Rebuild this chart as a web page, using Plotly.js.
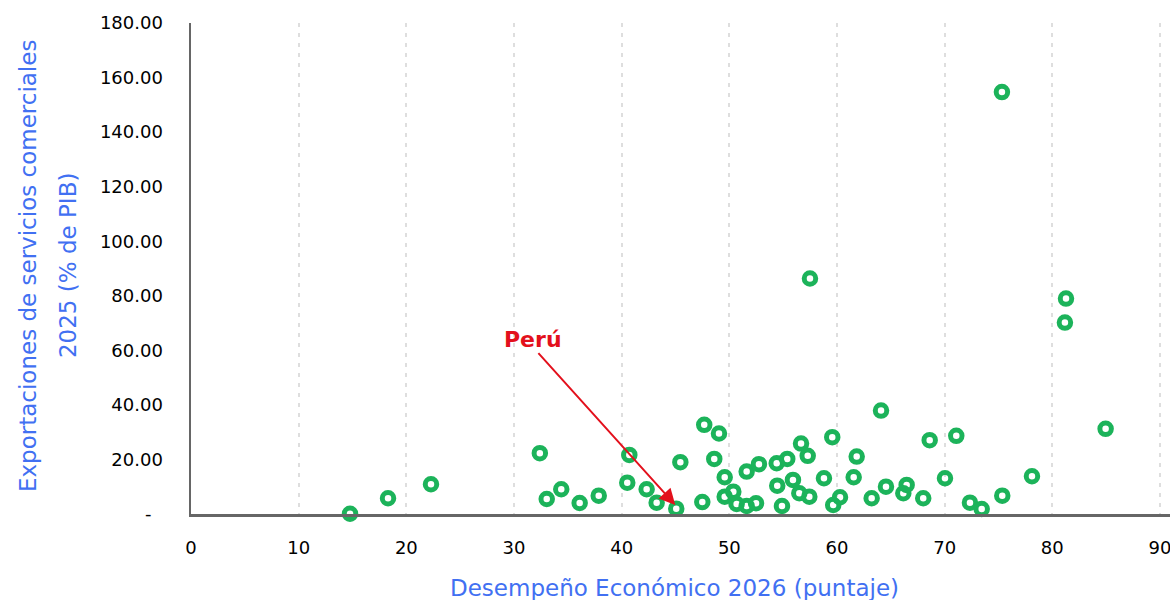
<!DOCTYPE html>
<html>
<head>
<meta charset="utf-8">
<script src="https://cdn.plot.ly/plotly-3.0.1.min.js"></script>
<style>html,body{margin:0;padding:0;background:#fff;}#chart{width:1170px;height:600px;}</style>
</head>
<body>
<div id="chart"></div>
<script>
const desempeno = [14.77,18.30,22.29,32.40,33.04,34.39,36.10,37.87,40.71,40.52,42.32,43.25,45.07,45.45,47.67,47.49,48.60,49.04,49.57,49.57,50.37,50.68,51.61,51.61,52.48,52.75,54.45,54.40,54.89,55.38,55.91,56.66,56.50,57.28,57.43,57.49,58.79,59.56,59.65,60.28,61.55,61.83,63.22,64.09,64.55,66.16,66.47,68.01,68.61,70.03,71.08,72.35,73.44,75.35,75.32,78.11,81.27,81.17,84.95];
const exportaciones = [0.1,5.77,10.91,22.30,5.51,9.07,4.04,6.72,21.67,11.50,9.07,4.15,1.95,18.99,32.69,4.41,20.20,29.50,13.48,6.36,8.19,3.67,2.94,15.54,3.93,18.26,10.40,18.62,2.94,20.20,12.49,25.82,7.60,21.31,6.36,86.33,13.11,28.18,3.31,6.13,13.48,21.05,5.77,37.91,10.03,7.60,10.65,5.77,27.07,13.11,28.65,4.15,1.84,6.72,154.66,13.85,78.98,70.16,31.22];
const yTickVals = [0,20,40,60,80,100,120,140,160,180];
const yTickText = ["-\u00a0\u00a0","20.00","40.00","60.00","80.00","100.00","120.00","140.00","160.00","180.00"];
const xTickVals = [0,10,20,30,40,50,60,70,80,90];
const xTitle = 'Desempeño Económico 2026 (puntaje)';
const yTitleLines = ['Exportaciones de servicios comerciales','2025 (% de PIB)'];
const peruLabel = 'Perú';
const peruArrow = {x:44.98, y:3.3, tailX:32.14, tailY:59.5, labelX:31.77, labelY:64.0};

const trace = {
  x: desempeno, y: exportaciones, type:'scatter', mode:'markers',
  marker:{symbol:'circle-open', size:11.5, color:'#1cb35a', line:{width:5, color:'#1cb35a'}},
  hoverinfo:'x+y', cliponaxis:false
};
const font = "'DejaVu Sans', sans-serif";
const blue = '#4170f2';
const red = '#e3101c';
const layout = {
  width:1170, height:600,
  margin:{l:191, r:0, t:23, b:86},
  paper_bgcolor:'#fff', plot_bgcolor:'#fff',
  showlegend:false,
  font:{family:font, color:'#000'},
  xaxis:{
    range:[0,90.93], tickvals:xTickVals, ticktext:xTickVals.map(String),
    showgrid:true, gridcolor:'#dedede', gridwidth:2, griddash:'4px,6px',
    showline:true, linecolor:'#666', linewidth:2.5, zeroline:false,
    ticks:'', ticklabelstandoff:16, ticklabeloverflow:'allow',
    tickfont:{size:18, color:'#000', family:font}
  },
  yaxis:{
    range:[0,180], tickvals:yTickVals, ticktext:yTickText,
    showgrid:false, zeroline:false,
    showline:true, linecolor:'#666', linewidth:2.5,
    ticks:'', ticklabelstandoff:22,
    tickfont:{size:18, color:'#000', family:font}
  },
  annotations:[
    {xref:'paper', yref:'paper', x:(674-191)/979, y:(514-588)/491, xanchor:'center', yanchor:'middle',
     showarrow:false, text:xTitle, font:{size:23, color:blue, family:font}},
    {xref:'paper', yref:'paper', x:(28-191)/979, y:0.505, xanchor:'center', yanchor:'middle',
     textangle:-90, showarrow:false, text:yTitleLines[0], font:{size:23, color:blue, family:font}},
    {xref:'paper', yref:'paper', x:(68-191)/979, y:0.505, xanchor:'center', yanchor:'middle',
     textangle:-90, showarrow:false, text:yTitleLines[1], font:{size:23, color:blue, family:font}},
    {xref:'x', yref:'y', x:peruArrow.labelX, y:peruArrow.labelY, xanchor:'center', yanchor:'middle',
     showarrow:false, text:'<b>'+peruLabel+'</b>', font:{size:22, color:red, family:font}},
    {xref:'x', yref:'y', x:peruArrow.x, y:peruArrow.y, ax:peruArrow.tailX, ay:peruArrow.tailY,
     axref:'x', ayref:'y', text:'', showarrow:true, arrowhead:2, arrowsize:1.6, arrowwidth:2,
     arrowcolor:red, standoff:0, startstandoff:0}
  ]
};
Plotly.newPlot('chart',[trace],layout,{displayModeBar:false, staticPlot:true});
</script>
</body>
</html>
